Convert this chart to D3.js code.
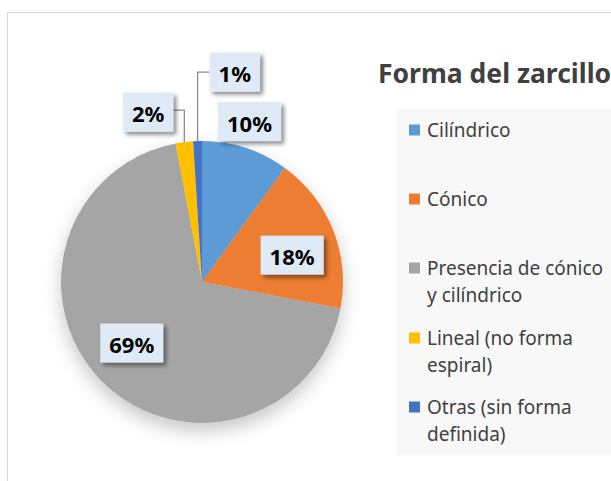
<!DOCTYPE html>
<html lang="es">
<head>
<meta charset="UTF-8">
<title>Forma del zarcillo</title>
<script src="https://d3js.org/d3.v7.min.js"></script>
<style>
  body { margin: 0; background: #fff; }
  svg { display: block; font-family: "Noto Sans", sans-serif; }
</style>
</head>
<body>
<div id="chart"></div>
<script>
// data
const categories = ['Cilíndrico', 'Cónico', 'Presencia de cónico\ny cilíndrico', 'Lineal (no forma\nespiral)', 'Otras (sin forma\ndefinida)'];
const values = [10, 18, 69, 2, 1];
const colors = ['#5B9BD5', '#ED7D31', '#A5A5A5', '#FFC000', '#4472C4'];
const title = 'Forma del zarcillo';

const width = 611, height = 481;
const cx = 202, cy = 282, radius = 141;

const svg = d3.select('#chart').append('svg')
    .attr('width', width)
    .attr('height', height);

const defs = svg.append('defs');
const pieShadow = defs.append('filter').attr('id', 'pieShadow')
    .attr('x', '-30%').attr('y', '-30%').attr('width', '160%').attr('height', '160%');
pieShadow.append('feDropShadow')
    .attr('dx', 0).attr('dy', 8).attr('stdDeviation', 9)
    .attr('flood-color', '#000').attr('flood-opacity', 0.22);

const boxShadow = defs.append('filter').attr('id', 'boxShadow')
    .attr('x', '-30%').attr('y', '-30%').attr('width', '160%').attr('height', '160%');
boxShadow.append('feDropShadow')
    .attr('dx', 3).attr('dy', 3).attr('stdDeviation', 2)
    .attr('flood-color', '#000').attr('flood-opacity', 0.45);

// chart area border
svg.append('rect')
    .attr('x', 7.5).attr('y', 12.5)
    .attr('width', 700).attr('height', 600)
    .attr('fill', '#fff')
    .attr('stroke', '#d9d9d9');

// pie
const pie = d3.pie().sort(null).value(d => d);
const arcs = pie(values);
const arc = d3.arc().innerRadius(0).outerRadius(radius);

const g = svg.append('g').attr('transform', `translate(${cx},${cy})`);
g.append('g').attr('filter', 'url(#pieShadow)')
  .selectAll('path')
  .data(arcs)
  .join('path')
    .attr('d', arc)
    .attr('fill', (d, i) => colors[i]);

// label layout: radial (factor of radius, small angle nudge in degrees) or leader line
const labelLayout = [
    { type: 'radial', k: 1.187, da: -1.5 },
    { type: 'radial', k: 0.667, da: 5 },
    { type: 'radial', k: 0.66, da: 4 },
    { type: 'leader', rise: 32, run: -11 },
    { type: 'leader', rise: 69, run: 12 }
];

const fmt = v => Math.round(v / d3.sum(values) * 100) + '%';
const labelFont = 22, boxH = 39, padX = 9;

arcs.forEach((d, i) => {
    const lay = labelLayout[i];
    const mid = (d.startAngle + d.endAngle) / 2;
    const lg = g.append('g');
    const txt = lg.append('text')
        .attr('text-anchor', 'middle')
        .attr('dominant-baseline', 'central')
        .attr('font-size', labelFont)
        .attr('font-weight', 'bold')
        .attr('fill', '#000')
        .text(fmt(d.value));
    const tw = txt.node().getComputedTextLength();
    const bw = tw + padX * 2;
    let bx, by;
    if (lay.type === 'radial') {
        const a = mid + lay.da * Math.PI / 180;
        bx = Math.sin(a) * radius * lay.k;
        by = -Math.cos(a) * radius * lay.k;
    } else {
        const ex = Math.sin(mid) * radius;
        const ey = -Math.cos(mid) * radius;
        const ty = ey - lay.rise;
        const tx = ex + lay.run;
        g.insert('path', ':scope > g:last-child')
            .attr('d', `M${ex},${ey}V${ty}H${tx}`)
            .attr('fill', 'none')
            .attr('stroke', '#8c8c8c')
            .attr('stroke-width', 1.3);
        bx = tx + Math.sign(lay.run) * bw / 2;
        by = ty + (lay.run < 0 ? 2 : 0);
    }
    lg.insert('rect', 'text')
        .attr('x', bx - bw / 2).attr('y', by - boxH / 2)
        .attr('width', bw).attr('height', boxH)
        .attr('fill', '#DEEBF7')
        .attr('filter', 'url(#boxShadow)');
    txt.attr('x', bx).attr('y', by + 1);
});

// title
svg.append('text')
    .attr('x', 378).attr('y', 73)
    .attr('dominant-baseline', 'central')
    .attr('font-size', 26.5)
    .attr('font-weight', 'bold')
    .attr('fill', '#404040')
    .text(title);

// legend
const legendX = 397, legendY = 109;
svg.append('rect')
    .attr('x', legendX).attr('y', legendY)
    .attr('width', width - legendX).attr('height', 455 - legendY)
    .attr('fill', '#f8f8f8');

const legendRows = [130, 199, 268, 338, 407];
const lineH = 26.5;
const leg = svg.append('g').selectAll('g')
    .data(categories)
    .join('g')
    .attr('transform', (d, i) => `translate(409,${legendRows[i]})`);
leg.append('rect')
    .attr('x', 0).attr('y', -5.5)
    .attr('width', 11).attr('height', 11)
    .attr('fill', (d, i) => colors[i]);
leg.append('text')
    .attr('x', 18)
    .attr('font-size', 19)
    .attr('fill', '#404040')
    .selectAll('tspan')
    .data(d => d.split('\n'))
    .join('tspan')
      .attr('x', 18)
      .attr('y', (d, j) => j * lineH)
      .attr('dominant-baseline', 'central')
      .text(d => d);
</script>
</body>
</html>
